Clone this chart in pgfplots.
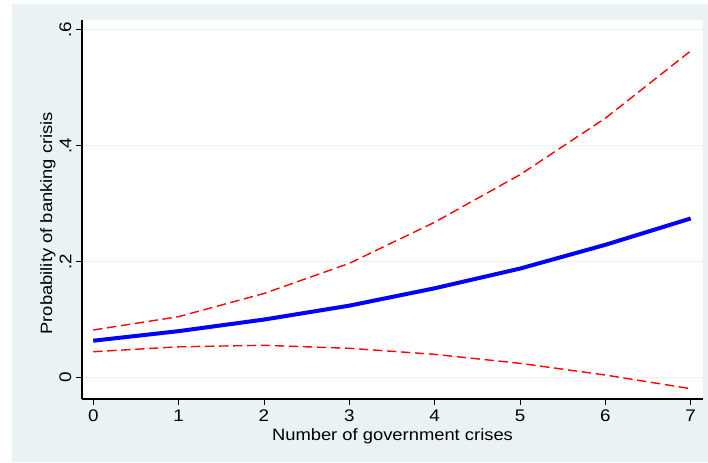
\documentclass[border=0pt]{standalone}
\usepackage{pgfplots}
\pgfplotsset{compat=1.18}
\usepackage{fontspec}
\setmainfont[FakeStretch=1.12]{Liberation Sans}
\definecolor{bgc}{RGB}{234,242,243}
\begin{document}
\begin{tikzpicture}[x=1pt,y=1pt]
\path[use as bounding box] (0,0) rectangle (531,346.5);
\fill[bgc] (9,0) rectangle (531,343.5);
\begin{axis}[
  at={(61.5pt,47.25pt)}, anchor=south west,
  scale only axis, width=465.75pt, height=284.25pt,
  xmin=-0.132, xmax=7.144, ymin=-0.0371, ymax=0.617,
  axis x line*=bottom, axis y line*=left,
  axis line style={black, line width=0.8pt, -},
  axis background/.style={fill=white},
  xtick={0,1,2,3,4,5,6,7}, xticklabels={0,1,2,3,4,5,6,7},
  ytick={0,0.2,0.4,0.6}, yticklabels={0,.2,.4,.6},
  tick align=outside, major tick length=4.5pt,
  tick style={black, line width=0.6pt},
  ymajorgrids, grid style={bgc, line width=0.8pt},
  ticklabel style={font=\fontsize{12.6}{15}\selectfont},
  y tick label style={rotate=90, anchor=south},
  label style={font=\fontsize{12.3}{15}\selectfont},
  xlabel={Number of government crises},
  ylabel={Probability of banking crisis},
  x label style={at={(axis description cs:0.5,-0.1108)}, anchor=base},
  y label style={at={(axis description cs:-0.0483,0.464)}, anchor=base},
  clip=false,
]
\addplot[red, line width=1.05pt, dash pattern=on 7pt off 3.5pt] coordinates {
(0,0.082) (1,0.105) (2,0.145) (3,0.197) (4,0.268) (5,0.350) (6,0.4475) (7,0.5637)};
\addplot[red, line width=1.05pt, dash pattern=on 7pt off 3.5pt] coordinates {
(0,0.0445) (1,0.053) (2,0.0556) (3,0.0504) (4,0.040) (5,0.0245) (6,0.0043) (7,-0.0193)};
\addplot[blue, line width=3pt, line join=round] coordinates {
(0,0.0635) (1,0.080) (2,0.100) (3,0.124) (4,0.154) (5,0.188) (6,0.229) (7,0.2745)};
\end{axis}
\end{tikzpicture}
\end{document}
